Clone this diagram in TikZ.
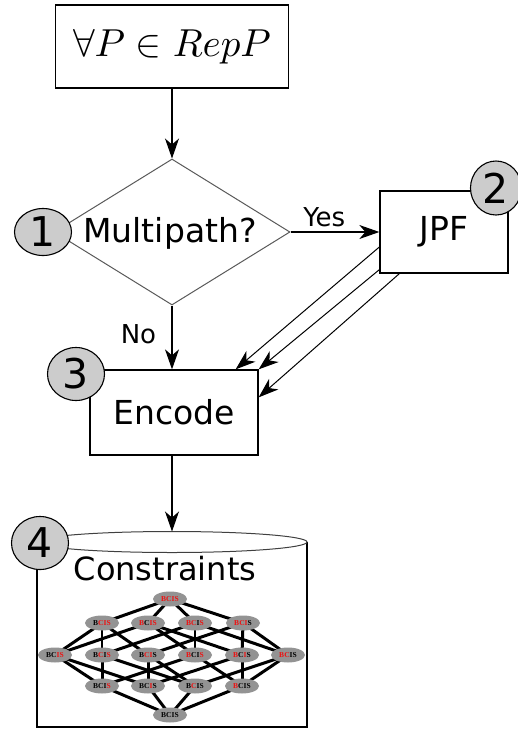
\documentclass[tikz,border=0pt]{standalone}
\usepackage{graphicx}
\usepackage{fontspec}
\setmainfont{DejaVu Sans}
\newfontfamily\latfont{Liberation Serif}
\usetikzlibrary{shapes.geometric,arrows.meta,calc}
\pgfdeclarelayer{bg}
\pgfsetlayers{bg,main}

\definecolor{numfill}{HTML}{CCCCCC}
\definecolor{latfill}{HTML}{939393}
\definecolor{latred}{HTML}{EE1111}

% one lattice label: each argument is the colour of B, C, I, S
\newcommand\latlabel[4]{{\latfont\bfseries\fontsize{7.5}{8}\selectfont
  \textcolor{#1}{B}\textcolor{#2}{C}\textcolor{#3}{I}\textcolor{#4}{S}}}

\tikzset{
  procbox/.style={draw=black, line width=1.3pt, minimum width=#1, inner sep=0pt},
  flowarrow/.style={draw=black, line width=1.1pt,
    -{Stealth[length=20pt,width=14pt,inset=6pt]}},
  numbadge/.style={ellipse, draw=black, line width=1.1pt, fill=numfill,
    inner sep=0pt, font=\fontsize{41}{41}\selectfont},
  bigtext/.style={font=\fontsize{33}{38}\selectfont},
  smalltext/.style={font=\fontsize{26}{30}\selectfont},
  latnode/.style={ellipse, fill=latfill, minimum width=34pt, minimum height=15pt,
    inner sep=0pt},
  latedge/.style={line width=3pt, black},
  latthin/.style={line width=1.2pt, black},
}

\begin{document}
\begin{tikzpicture}[x=1pt,y=-1pt]
\useasboundingbox (0,0) rectangle (518,729);

% start box
\node[procbox=233pt, minimum height=83pt]
  (start) at (172,46.5) {\scalebox{3.9}{$\forall P \in RepP$}};

% decision
\node[diamond, draw=black!65, line width=1pt, minimum width=236pt,
  minimum height=146pt, inner sep=0pt] (dec) at (172,232) {};
\node[bigtext] (dectext) at (170,233) {Multipath?};

% JPF box
\node[procbox=128pt, minimum height=82pt, bigtext] (jpf) at (444,232) {JPF};

% Encode box
\node[procbox=168pt, minimum height=85pt, bigtext] (enc) at (174,412.5) {Encode};

% constraint store (cylinder)
\draw[line width=2pt] (37,542) -- (37,727) -- (307,727) -- (307,542);
\draw[draw=black!75, line width=1pt, fill=white] (172,542) ellipse [x radius=135pt, y radius=10.5pt];
\coordinate (dbtop) at (172,531.5);
\node[font=\fontsize{32}{36}\selectfont] (dbtext) at (165,569) {Constraints};

% connectors
\draw[flowarrow] (start.south) -- (dec.north);
\draw[flowarrow] (dec.east) -- (jpf.west)
  node[pos=0.38, above=1pt, smalltext] (yes) {Yes};
\draw[flowarrow] (dec.south) -- (enc.north -| dec.south)
  node[pos=0.45, left=12pt, smalltext] (no) {No};
\draw[flowarrow, line width=1pt] ($(jpf.west)+(0,15)$) -- ($(enc.north east)+(-23,0)$);
\draw[flowarrow, line width=1pt] ($(jpf.south west)+(0,-4)$) -- (enc.north east);
\draw[flowarrow, line width=1pt] ($(jpf.south west)+(20,0)$) -- ($(enc.north east)+(0,28)$);
\draw[flowarrow] (enc.south -| dbtop) -- (dbtop);

% number badges
\node[numbadge, minimum width=57pt, minimum height=47pt] (n1) at (43,232) {1};
\node[numbadge, minimum width=51pt, minimum height=54pt] (n2) at (496,188) {2};
\node[numbadge, minimum width=57pt, minimum height=53pt] (n3) at (76,374) {3};
\node[numbadge, minimum width=57pt, minimum height=53pt] (n4) at (40,543) {4};

% subset lattice of {B,C,I,S}
\node[latnode] (top) at (170,599) {\latlabel{latred}{latred}{latred}{latred}};
\node[latnode] (cis) at (102,623) {\latlabel{black}{latred}{latred}{latred}};
\node[latnode] (bis) at (148,623) {\latlabel{latred}{black}{latred}{latred}};
\node[latnode] (bcs) at (195,623) {\latlabel{latred}{latred}{black}{latred}};
\node[latnode] (bci) at (243,623) {\latlabel{latred}{latred}{latred}{black}};
\node[latnode] (is) at (55,655) {\latlabel{black}{black}{latred}{latred}};
\node[latnode] (cs) at (102,655) {\latlabel{black}{latred}{black}{latred}};
\node[latnode] (ci) at (148,655) {\latlabel{black}{latred}{latred}{black}};
\node[latnode] (bs) at (195,655) {\latlabel{latred}{black}{black}{latred}};
\node[latnode] (bi) at (242,655) {\latlabel{latred}{black}{latred}{black}};
\node[latnode] (bc) at (288,655) {\latlabel{latred}{latred}{black}{black}};
\node[latnode] (s) at (102,686) {\latlabel{black}{black}{black}{latred}};
\node[latnode] (i) at (148,686) {\latlabel{black}{black}{latred}{black}};
\node[latnode] (c) at (195,686) {\latlabel{black}{latred}{black}{black}};
\node[latnode] (b) at (242,686) {\latlabel{latred}{black}{black}{black}};
\node[latnode] (bot) at (170,715) {\latlabel{black}{black}{black}{black}};

% lattice edges, kept behind the nodes
\begin{pgfonlayer}{bg}
\foreach \u/\v in {top/cis, top/bis, top/bcs, top/bci,
    cis/is, cis/ci, bis/is, bis/bs, bis/bi, bcs/cs, bcs/bc,
    bci/ci, bci/bi, bci/bc,
    is/s, is/i, cs/s, cs/c, ci/i, ci/c, bs/s, bs/b, bi/i, bi/b, bc/c, bc/b,
    s/bot, i/bot, c/bot, b/bot}
  \draw[latedge] (\u.center) -- (\v.center);
\draw[latthin] (cis.center) -- (cs.center);
\draw[latthin] (bcs.center) -- (bs.center);
\end{pgfonlayer}
\end{tikzpicture}
\end{document}
